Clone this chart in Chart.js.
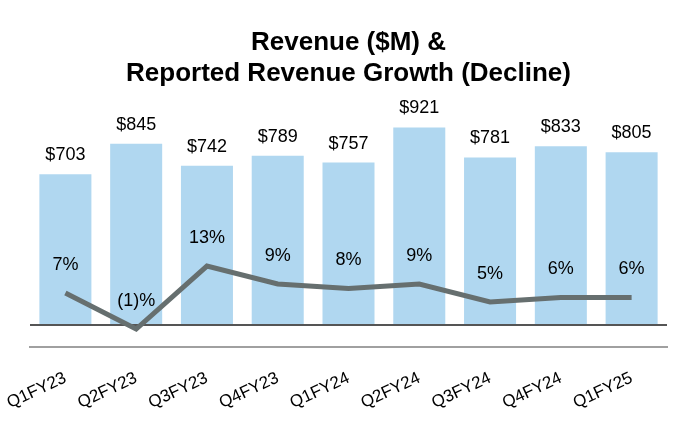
<!DOCTYPE html>
<html>
<head>
<meta charset="utf-8">
<script src="https://cdn.jsdelivr.net/npm/chart.js@4"></script>
<style>
  body { margin: 0; background: #fff; }
  #wrap { width: 696px; height: 440px; position: relative; }
</style>
</head>
<body>
<div id="wrap"><canvas id="revChart"></canvas></div>
<script>
const quarters = ['Q1FY23', 'Q2FY23', 'Q3FY23', 'Q4FY23', 'Q1FY24', 'Q2FY24', 'Q3FY24', 'Q4FY24', 'Q1FY25'];
const revenue = [703, 845, 742, 789, 757, 921, 781, 833, 805];
const growth = [7, -1, 13, 9, 8, 9, 5, 6, 6];
const titleLines = ['Revenue ($M) &', 'Reported Revenue Growth (Decline)'];

const FONT = "'Liberation Sans', Arial, sans-serif";

// draws the $ and % labels above bars and points
const valueLabels = {
    id: 'valueLabels',
    afterDatasetsDraw(chart) {
        const ctx = chart.ctx;
        ctx.save();
        ctx.font = '18px ' + FONT;
        ctx.fillStyle = '#000';
        ctx.textAlign = 'center';
        ctx.textBaseline = 'middle';

        chart.getDatasetMeta(1).data.forEach((bar, i) => {
            ctx.fillText('$' + revenue[i], bar.x, bar.y - 19);
        });
        chart.getDatasetMeta(0).data.forEach((pt, i) => {
            const v = growth[i];
            const txt = v < 0 ? '(' + Math.abs(v) + ')%' : v + '%';
            ctx.fillText(txt, pt.x, pt.y - 28);
        });
        ctx.restore();
    }
};

document.addEventListener('DOMContentLoaded', function() {
    new Chart(document.getElementById('revChart'), {
        data: {
            labels: quarters,
            datasets: [{
                type: 'line',
                label: 'Growth',
                data: growth,
                yAxisID: 'y1',
                borderColor: '#666f6f',
                borderWidth: 5,
                pointRadius: 0,
                tension: 0,
                fill: false,
                order: 0
            }, {
                type: 'bar',
                label: 'Revenue',
                data: revenue,
                yAxisID: 'y',
                backgroundColor: '#b0d7f0',
                borderWidth: 0,
                categoryPercentage: 1,
                barPercentage: 0.735,
                order: 1
            }]
        },
        options: {
            responsive: true,
            maintainAspectRatio: false,
            animation: false,
            layout: { padding: { left: 30, right: 29, top: 0, bottom: 0 } },
            scales: {
                x: {
                    grid: { display: false },
                    border: { display: true, color: '#a0a0a0', width: 2 },
                    ticks: {
                        color: '#000',
                        font: { family: FONT, size: 17 },
                        minRotation: 25,
                        maxRotation: 25,
                        autoSkip: false,
                        padding: 13
                    },
                    afterFit(scale) {
                        scale.height = 93;
                        scale.paddingLeft = 0;
                        scale.paddingRight = 0;
                    }
                },
                y: {
                    min: -102.6,
                    max: 1048.9,
                    position: 'left',
                    border: { display: false },
                    ticks: { display: false },
                    grid: {
                        drawTicks: false,
                        lineWidth: 2,
                        color: '#555'
                    },
                    afterBuildTicks(scale) { scale.ticks = [{ value: 0 }]; },
                    afterFit(scale) { scale.width = 0; }
                },
                y1: {
                    display: false,
                    min: -5,
                    max: 49.9
                }
            },
            plugins: {
                legend: { display: false },
                tooltip: { enabled: false },
                title: {
                    display: true,
                    text: titleLines,
                    color: '#000',
                    font: { family: FONT, size: 26, weight: 'bold', lineHeight: 1.2 },
                    padding: { top: 27.4, bottom: 10.2 }
                }
            }
        },
        plugins: [valueLabels]
    });
});
</script>
</body>
</html>
